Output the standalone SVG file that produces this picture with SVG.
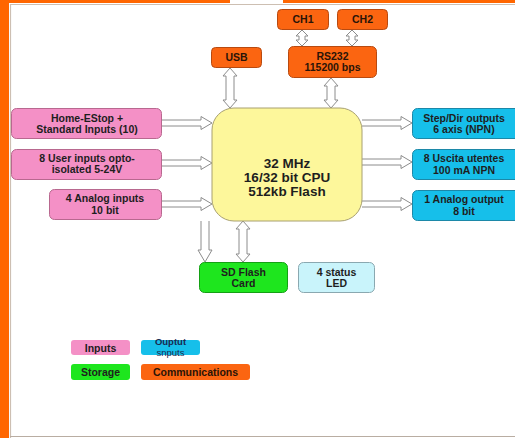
<svg xmlns="http://www.w3.org/2000/svg" width="515" height="438" viewBox="0 0 515 438">
<style>
text{font-family:"Liberation Sans",Arial,sans-serif;font-weight:bold;font-size:10.5px;text-anchor:middle;fill:#1e1e1e}
.in{fill:#f490c6;stroke:#b8688f;stroke-width:1}
.out{fill:#16bfea;stroke:#1c88a8;stroke-width:1}
.com{fill:#fb6511;stroke:#b84a10;stroke-width:1}
.sto{fill:#1ee61e;stroke:#14a014;stroke-width:1}
.led{fill:#c9f4fb;stroke:#8aa8b0;stroke-width:1}
.ct{fill:#2a1408}
.arr{fill:#ffffff;stroke:#8c8c8c;stroke-width:1}
.cpu text{font-size:13.5px}
.lg{font-size:9.5px;fill:#1a2a50}
</style>
<rect width="515" height="438" fill="#ffffff"/>
<g id="frame">
<rect x="0" y="0" width="9" height="438" fill="#ff6600"/>
<rect x="0" y="0" width="230" height="3" fill="#ff6600"/>
<rect x="283" y="0" width="232" height="3" fill="#ff6600"/>
<path d="M10.5,438 V4.5 H515" fill="none" stroke="#cdbfb2" stroke-width="1.2"/>
<path d="M10,436.5 H515" fill="none" stroke="#b9ada2" stroke-width="1.2"/>
</g>
<g id="connectors">
<path class="arr" d="M162,120 H201 V116.5 L212,123 L201,129.5 V126 H162"/>
<path class="arr" d="M162,160 H201 V156.5 L212,163 L201,169.5 V166 H162"/>
<path class="arr" d="M162,201 H201 V197.5 L212,204 L201,210.5 V207 H162"/>
<path class="arr" d="M362,120 H401 V116.5 L412,123 L401,129.5 V126 H362"/>
<path class="arr" d="M362,159 H401 V155.5 L412,162 L401,168.5 V165 H362"/>
<path class="arr" d="M362,201 H401 V197.5 L412,204 L401,210.5 V207 H362"/>
<path class="arr" d="M226,76 H223 L230,68 L237,76 H234 V100 H237 L230,108 L223,100 H226 Z"/>
<path class="arr" d="M327,86 H324 L331,78 L338,86 H335 V100 H338 L331,108 L324,100 H327 Z"/>
<path class="arr" d="M299,36 H296 L302,30 L308,36 H305 V40 H308 L302,46 L296,40 H299 Z"/>
<path class="arr" d="M349,36 H346 L352,30 L358,36 H355 V40 H358 L352,46 L346,40 H349 Z"/>
<path class="arr" d="M201,221 V250 H198 L205,262 L212,250 H209 V221"/>
<path class="arr" d="M239,229 H236 L243,221 L250,229 H247 V254 H250 L243,262 L236,254 H239 Z"/>
</g>
<g id="cpu" class="cpu">
<rect x="212" y="108" width="150" height="113" rx="22" fill="#fdf79b" stroke="#a8a070" stroke-width="1"/>
<text x="287" y="168">32 MHz</text>
<text x="287" y="182">16/32 bit CPU</text>
<text x="287" y="196">512kb Flash</text>
</g>
<g id="in1"><rect class="in" x="11.5" y="108.5" width="150" height="30" rx="5"/><text x="87" y="121.5">Home-EStop +</text><text x="87" y="133">Standard Inputs (10)</text></g>
<g id="in2"><rect class="in" x="11.5" y="149.5" width="150" height="30" rx="5"/><text x="87" y="161.5">8 User inputs opto-</text><text x="87" y="173">isolated 5-24V</text></g>
<g id="in3"><rect class="in" x="49.5" y="189.5" width="112" height="30" rx="5"/><text x="105" y="202">4 Analog inputs</text><text x="105" y="213.5">10 bit</text></g>
<g id="out1"><rect class="out" x="412.5" y="108.5" width="110" height="30" rx="5"/><text x="464" y="121.5">Step/Dir outputs</text><text x="464" y="133">6 axis (NPN)</text></g>
<g id="out2"><rect class="out" x="412.5" y="149.5" width="110" height="30" rx="5"/><text x="464" y="162">8 Uscita utentes</text><text x="464" y="173.5">100 mA NPN</text></g>
<g id="out3"><rect class="out" x="412.5" y="190.5" width="110" height="30" rx="5"/><text x="464" y="203">1 Analog output</text><text x="464" y="214.5">8 bit</text></g>
<g id="usb"><rect class="com" x="211.5" y="47.5" width="50" height="20" rx="4"/><text class="ct" x="236.5" y="61">USB</text></g>
<g id="rs232"><rect class="com" x="288.5" y="46.5" width="88" height="31" rx="5"/><text class="ct" x="332.5" y="59.5">RS232</text><text class="ct" x="332.5" y="71">115200 bps</text></g>
<g id="ch1"><rect class="com" x="277.5" y="9.5" width="51" height="20" rx="4"/><text class="ct" x="303" y="23">CH1</text></g>
<g id="ch2"><rect class="com" x="337.5" y="9.5" width="50" height="20" rx="4"/><text class="ct" x="362.5" y="23">CH2</text></g>
<g id="sd"><rect class="sto" x="199.5" y="262.5" width="88" height="30" rx="5"/><text x="243.5" y="275.5">SD Flash</text><text x="243.5" y="287">Card</text></g>
<g id="led"><rect class="led" x="298.5" y="262.5" width="76" height="30" rx="5"/><text x="336.5" y="275.5">4 status</text><text x="336.5" y="287">LED</text></g>
<g id="legend">
<rect x="71" y="340" width="59" height="15" rx="3" fill="#f490c6"/><text x="100.5" y="351.5">Inputs</text>
<rect x="141" y="340" width="59" height="15" rx="3" fill="#16bfea"/><text class="lg" x="170.5" y="344.5">Ouptut</text><text class="lg" x="170.5" y="356" style="font-weight:normal">snputs</text>
<rect x="71" y="364" width="59" height="16" rx="3" fill="#1ee61e"/><text x="100.5" y="376">Storage</text>
<rect x="141" y="364" width="109" height="16" rx="3" fill="#fb6511"/><text class="ct" x="195.5" y="376">Communications</text>
</g>
</svg>
